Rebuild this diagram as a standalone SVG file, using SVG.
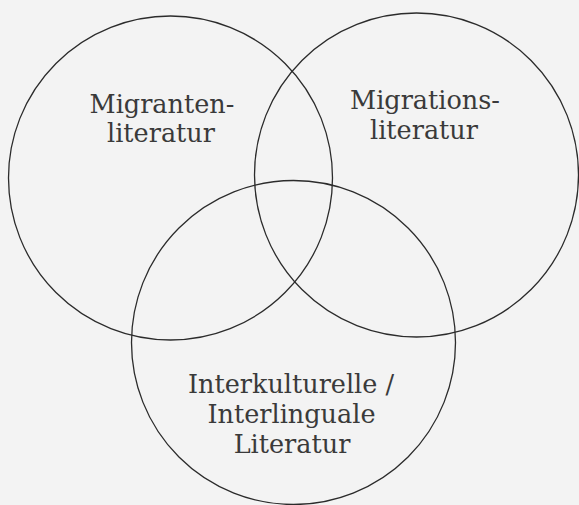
<svg xmlns="http://www.w3.org/2000/svg" width="579" height="505" viewBox="0 0 579 505">
<style>
.c{fill:none;stroke:#2b2b2b;stroke-width:1.3}
.t{font-family:"DejaVu Serif","Liberation Serif",serif;font-size:25.5px;fill:#3a3a3a;text-anchor:middle}
</style>
<rect width="579" height="505" fill="#f3f3f3"/>
<g id="migrantenliteratur">
<circle class="c" cx="170.5" cy="178" r="162"/>
<text class="t" x="162" y="113">Migranten-</text>
<text class="t" x="161" y="142">literatur</text>
</g>
<g id="migrationsliteratur">
<circle class="c" cx="416.5" cy="175" r="162"/>
<text class="t" x="425" y="109">Migrations-</text>
<text class="t" x="424" y="139">literatur</text>
</g>
<g id="interkulturelle">
<circle class="c" cx="293.5" cy="342.5" r="162"/>
<text class="t" x="291" y="393">Interkulturelle /</text>
<text class="t" x="291.5" y="423">Interlinguale</text>
<text class="t" x="292" y="453">Literatur</text>
</g>
<g id="connectors"></g>
</svg>
